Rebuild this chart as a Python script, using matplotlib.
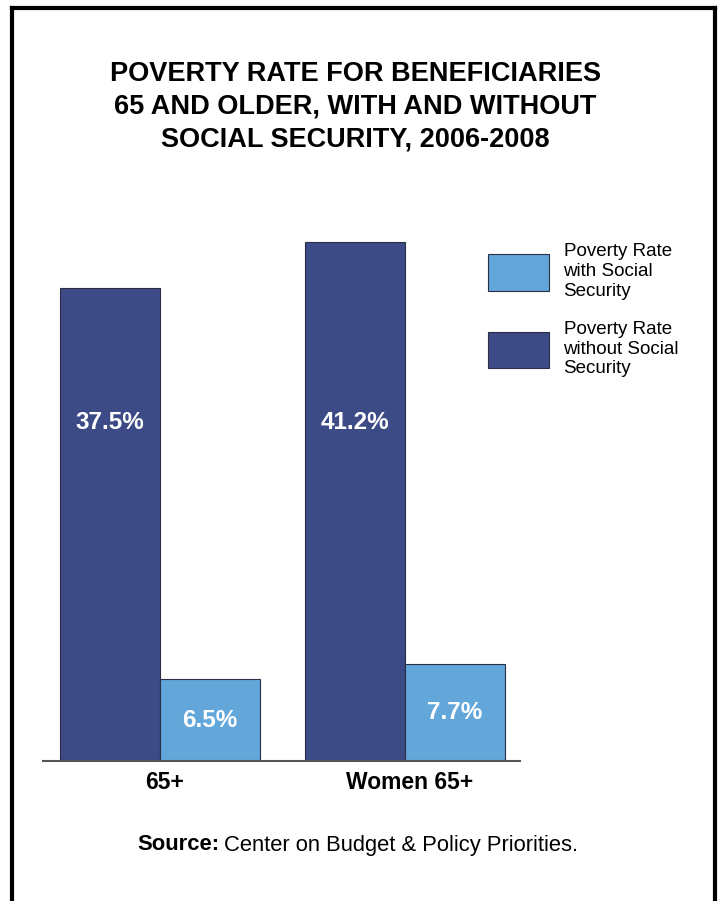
import numpy as np
import matplotlib.pyplot as plt
from matplotlib.lines import Line2D
from matplotlib.patches import Patch

plt.rcParams['font.family'] = ['Liberation Sans', 'DejaVu Sans']

groups = ['65+', 'Women 65+']
with_ss = [6.5, 7.7]
without_ss = [37.5, 41.2]
series_names = ['Poverty Rate\nwith Social\nSecurity', 'Poverty Rate\nwithout Social\nSecurity']
title = 'POVERTY RATE FOR BENEFICIARIES\n65 AND OLDER, WITH AND WITHOUT\nSOCIAL SECURITY, 2006-2008'

dark = '#3c4a85'
light = '#63a6d9'

W, H = 720, 901
fig = plt.figure(figsize=[7.2, 9.01], dpi=100)

# axes placed in pixel terms
x0, x1 = 43, 520
ybase = 761
ax = fig.add_axes([x0 / W, (H - ybase) / H, (x1 - x0) / W, 567 / H])

x = np.arange(len(groups))
w = 100 / 245
ax.bar(x - w / 2, without_ss, w, color=dark, edgecolor='#2a2f45', linewidth=0.8, zorder=2)
ax.bar(x + w / 2, with_ss, w, color=light, edgecolor='#2a2f45', linewidth=0.8, zorder=2)

for i in range(len(groups)):
    ax.text(x[i] - w / 2, 26.9, f'{without_ss[i]}%', color='white', fontsize=17.5,
            fontweight='bold', ha='center', va='center')
    ax.text(x[i] + w / 2, with_ss[i] / 2, f'{with_ss[i]}%', color='white', fontsize=17.5,
            fontweight='bold', ha='center', va='center')

ax.set_xlim((x0 - 160) / 245, (x1 - 160) / 245)
ax.set_ylim(0, 45)
for s in ['top', 'right', 'left']:
    ax.spines[s].set_visible(False)
ax.spines['bottom'].set_color('#555555')
ax.spines['bottom'].set_linewidth(1.5)
ax.set_yticks([])
ax.set_xticks(x + 5 / 245)
ax.set_xticklabels(groups, fontsize=16.5, fontweight='bold')
ax.tick_params(axis='x', length=0, pad=7)

# title
fig.text(355 / W, 1 - 61 / H, title, ha='center', va='top', fontsize=19.5,
         fontweight='bold', linespacing=1.33)

# legend
handles = [Patch(facecolor=light, edgecolor='#2a2f45', linewidth=0.8),
           Patch(facecolor=dark, edgecolor='#2a2f45', linewidth=0.8)]
leg = fig.legend(handles, series_names, loc='upper left',
                 bbox_to_anchor=(481 / W, 1 - 236 / H), frameon=False,
                 fontsize=13.5, handlelength=3.2, handleheight=2.6,
                 handletextpad=0.8, labelspacing=1.15, borderaxespad=0)
for t in leg.get_texts():
    t.set_linespacing(1.2)

# source line
src = fig.text(137 / W, 1 - 845 / H, 'Source:', ha='left', va='center', fontsize=15.8,
               fontweight='bold')
fig.canvas.draw()
bb = src.get_window_extent()
fig.text(bb.x1 / W + 5 / W, 1 - 845 / H, 'Center on Budget & Policy Priorities.',
         ha='left', va='center', fontsize=15.8)

# frame around the graphic (open at bottom)
lw = 3
fig.add_artist(Line2D([12 / W, 12 / W], [0, 1 - 8 / H], color='black', lw=lw))
fig.add_artist(Line2D([12 / W, 715 / W], [1 - 8 / H, 1 - 8 / H], color='black', lw=lw))
fig.add_artist(Line2D([715 / W, 715 / W], [0, 1 - 8 / H], color='black', lw=lw))

fig.savefig('out.png', dpi=100)
